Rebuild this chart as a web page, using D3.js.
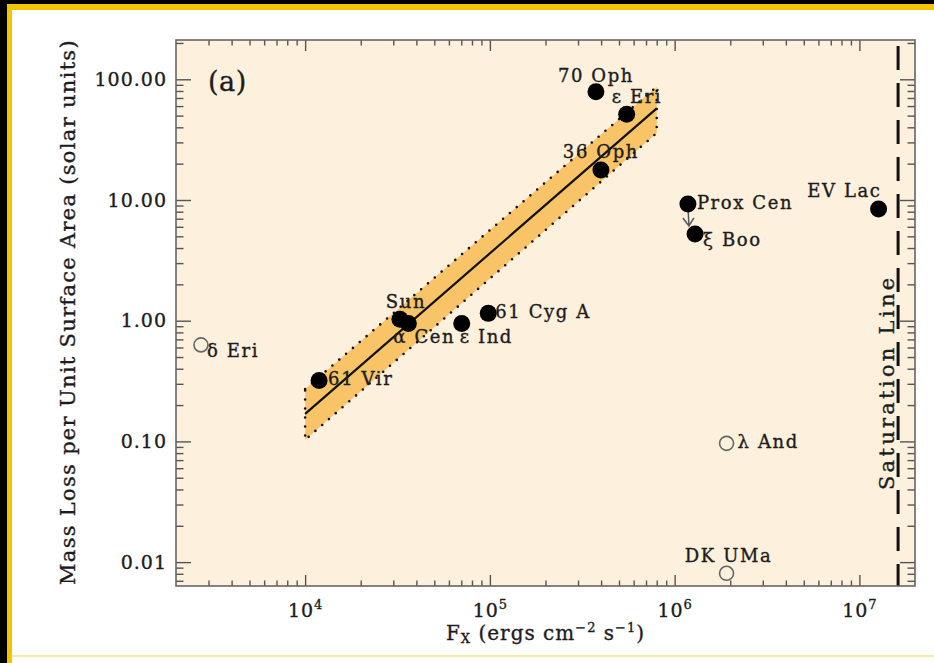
<!DOCTYPE html>
<html>
<head>
<meta charset="utf-8">
<script src="https://cdn.jsdelivr.net/npm/d3@7"></script>
<style>
  body { margin: 0; background: #000; }
  svg { display: block; font-family: "DejaVu Serif", serif; }
  .ink { fill: #1c1c1c; stroke: #1c1c1c; stroke-width: 0.35px; }
</style>
</head>
<body>
<div id="chart"></div>
<script>
// filled points: measured stars
var starNames = ['70 Oph', 'ε Eri', '36 Oph', 'Prox Cen', 'ξ Boo', 'EV Lac', 'Sun', 'α Cen', 'ε Ind', '61 Cyg A', '61 Vir'];
var starFx = [3.75e5, 5.5e5, 3.99e5, 1.18e6, 1.29e6, 1.27e7, 3.26e4, 3.62e4, 7.04e4, 9.8e4, 1.19e4];
var starMdot = [78.9, 51.3, 17.7, 9.27, 5.23, 8.42, 1.03, 0.95, 0.95, 1.15, 0.32];

// open points: non-detections
var openNames = ['δ Eri', 'λ And', 'DK UMa'];
var openFx = [2.73e3, 1.91e6, 1.91e6];
var openMdot = [0.63, 0.0964, 0.00808];

// power law fit and its uncertainty band
var fitFx = [1e4, 8e5];
var fitMdot = [0.169, 57.5];
var bandUpper = [0.272, 86.8];
var bandLower = [0.103, 35.9];

var saturationFx = 1.62e7;
var upperLimit = ['Prox Cen'];

var xDomain = [2000, 2e7];
var yDomain = [0.00634, 211.6];
var xMajor = [1e4, 1e5, 1e6, 1e7];
var yMajor = [0.01, 0.1, 1, 10, 100];

// label placement (pixels from point centre)
var labelPos = {
  '70 Oph': [0, -10, 'middle'], 'ε Eri': [-15, -11, 'start'], '36 Oph': [0, -12, 'middle'],
  'Prox Cen': [9, 5, 'start'], 'ξ Boo': [8, 12, 'start'], 'EV Lac': [3, -12, 'end'],
  'Sun': [6, -11, 'middle'], 'α Cen': [-15, 20, 'start'], 'ε Ind': [-2, 20, 'start'],
  '61 Cyg A': [7, 5, 'start'], '61 Vir': [9, 5, 'start'],
  'δ Eri': [6, 12, 'start'], 'λ And': [11, 5, 'start'], 'DK UMa': [2, -11, 'middle']
};

var W = 934, H = 663;
var m = {left: 176, top: 40};
var w = 739, h = 546;

var svg = d3.select('#chart').append('svg').attr('width', W).attr('height', H);

// page frame
svg.append('rect').attr('width', W).attr('height', H).attr('fill', '#000');
svg.append('rect').attr('x', 7).attr('y', 4).attr('width', W - 7).attr('height', H - 4).attr('fill', '#f5c400');
svg.append('rect').attr('x', 12).attr('y', 10).attr('width', W - 12).attr('height', H - 10).attr('fill', '#fff');
svg.append('rect').attr('x', 12).attr('y', 655).attr('width', W - 12).attr('height', 2).attr('fill', '#fbe9a6');

var g = svg.append('g').attr('transform', 'translate(' + m.left + ',' + m.top + ')');

var x = d3.scaleLog().domain(xDomain).range([0, w]);
var y = d3.scaleLog().domain(yDomain).range([h, 0]);

function minors(lo, hi) {
  var out = [];
  for (var e = Math.floor(Math.log10(lo)); e <= Math.ceil(Math.log10(hi)); e++) {
    for (var k = 2; k <= 9; k++) {
      var v = k * Math.pow(10, e);
      if (v > lo && v < hi) out.push(v);
    }
  }
  return out;
}
var xMinor = minors(xDomain[0], xDomain[1]);
var yMinor = minors(yDomain[0], yDomain[1]);

g.append('rect').attr('width', w).attr('height', h).attr('fill', '#fdf0dc');

// band
var band = fitFx.map(function (d, i) { return [x(d), y(bandUpper[i])]; })
  .concat(fitFx.slice().reverse().map(function (d, i) { return [x(d), y(bandLower[fitFx.length - 1 - i])]; }));
g.append('path').attr('d', d3.line()(band) + 'Z')
  .attr('fill', '#f9c468').attr('stroke', '#111').attr('stroke-width', 2.6)
  .attr('stroke-dasharray', '0,9').attr('stroke-linecap', 'round');

g.append('path').attr('d', d3.line()(fitFx.map(function (d, i) { return [x(d), y(fitMdot[i])]; })))
  .attr('fill', 'none').attr('stroke', '#111').attr('stroke-width', 2.2);

// saturation line
g.append('line').attr('x1', x(saturationFx)).attr('x2', x(saturationFx))
  .attr('y1', 6).attr('y2', h)
  .attr('stroke', '#111').attr('stroke-width', 3).attr('stroke-dasharray', '24,13');
g.append('text').attr('class', 'ink')
  .attr('transform', 'translate(' + (x(saturationFx) - 4) + ',' + (h * 0.627) + ') rotate(-90)')
  .attr('text-anchor', 'middle').attr('font-size', 21).style('letter-spacing', '3.3px')
  .text('Saturation Line');

// axes
function styleAxis(sel) {
  sel.select('.domain').remove();
  sel.selectAll('line').attr('stroke', '#555').attr('stroke-width', 1.4);
  sel.selectAll('text').attr('class', 'ink').attr('font-size', 19)
    .attr('font-family', '"DejaVu Serif", serif').style('letter-spacing', '1px');
}

g.append('g').attr('transform', 'translate(0,' + h + ')')
  .call(d3.axisBottom(x).tickValues(xMinor).tickSize(-5.5).tickFormat('')).call(styleAxis);
g.append('g').call(d3.axisTop(x).tickValues(xMinor).tickSize(-5.5).tickFormat('')).call(styleAxis);
g.append('g').call(d3.axisTop(x).tickValues(xMajor).tickSize(-11).tickFormat('')).call(styleAxis);
var xb = g.append('g').attr('transform', 'translate(0,' + h + ')')
  .call(d3.axisBottom(x).tickValues(xMajor).tickSize(-11).tickPadding(18).tickFormat(''))
  .call(styleAxis);
xb.selectAll('text').each(function (d) {
  var t = d3.select(this);
  t.append('tspan').text('10');
  t.append('tspan').attr('dy', -8).attr('font-size', 13).text(Math.round(Math.log10(d)));
});

g.append('g').call(d3.axisLeft(y).tickValues(yMinor).tickSize(-7.5).tickFormat('')).call(styleAxis);
g.append('g').attr('transform', 'translate(' + w + ',0)')
  .call(d3.axisRight(y).tickValues(yMinor).tickSize(-7.5).tickFormat('')).call(styleAxis);
g.append('g').attr('transform', 'translate(' + w + ',0)')
  .call(d3.axisRight(y).tickValues(yMajor).tickSize(-15).tickFormat('')).call(styleAxis);
g.append('g').call(d3.axisLeft(y).tickValues(yMajor).tickSize(-15).tickPadding(9).tickFormat(d3.format('.2f')))
  .call(styleAxis);

g.append('rect').attr('width', w).attr('height', h).attr('fill', 'none')
  .attr('stroke', '#666').attr('stroke-width', 1.6);

// points
var stars = starNames.map(function (n, i) { return {name: n, fx: starFx[i], m: starMdot[i]}; });
var opens = openNames.map(function (n, i) { return {name: n, fx: openFx[i], m: openMdot[i]}; });

stars.filter(function (d) { return upperLimit.indexOf(d.name) >= 0; }).forEach(function (d) {
  var cx = x(d.fx), cy = y(d.m);
  g.append('path').attr('d', 'M' + cx + ',' + cy + 'L' + (cx + 1) + ',' + (cy + 22)
      + 'M' + (cx - 5) + ',' + (cy + 14) + 'L' + (cx + 1) + ',' + (cy + 22) + 'L' + (cx + 6) + ',' + (cy + 14))
    .attr('fill', 'none').attr('stroke', '#555').attr('stroke-width', 1.5);
});

g.selectAll('.star').data(stars).enter().append('circle').attr('class', 'star')
  .attr('cx', function (d) { return x(d.fx); }).attr('cy', function (d) { return y(d.m); })
  .attr('r', 8.5).attr('fill', '#000');

g.selectAll('.open').data(opens).enter().append('circle').attr('class', 'open')
  .attr('cx', function (d) { return x(d.fx); }).attr('cy', function (d) { return y(d.m); })
  .attr('r', 7).attr('fill', 'none').attr('stroke', '#666').attr('stroke-width', 1.6);

g.selectAll('.lab').data(stars.concat(opens)).enter().append('text').attr('class', 'lab ink')
  .attr('x', function (d) { return x(d.fx) + labelPos[d.name][0]; })
  .attr('y', function (d) { return y(d.m) + labelPos[d.name][1]; })
  .attr('text-anchor', function (d) { return labelPos[d.name][2]; })
  .attr('font-size', 18).style('letter-spacing', '1.6px')
  .text(function (d) { return d.name; });

g.append('text').attr('class', 'ink').attr('x', 32).attr('y', 51).attr('font-size', 27)
  .style('letter-spacing', '0.5px').text('(a)');

// axis titles
var xt = svg.append('text').attr('class', 'ink').attr('x', m.left + w / 2).attr('y', 640).attr('text-anchor', 'middle')
  .attr('font-size', 20).style('letter-spacing', '1px');
xt.append('tspan').text('F');
xt.append('tspan').attr('font-size', 13).attr('dy', 3).text('X');
xt.append('tspan').attr('dy', -3).text(' (ergs cm');
xt.append('tspan').attr('font-size', 13).attr('dy', -8).text('−2');
xt.append('tspan').attr('dy', 8).text(' s');
xt.append('tspan').attr('font-size', 13).attr('dy', -8).text('−1');
xt.append('tspan').attr('dy', 8).text(')');

svg.append('text').attr('class', 'ink').attr('transform', 'translate(75,' + (m.top + h / 2 - 1) + ') rotate(-90)')
  .attr('text-anchor', 'middle').attr('font-size', 21).style('letter-spacing', '1.3px')
  .text('Mass Loss per Unit Surface Area (solar units)');
</script>
</body>
</html>
